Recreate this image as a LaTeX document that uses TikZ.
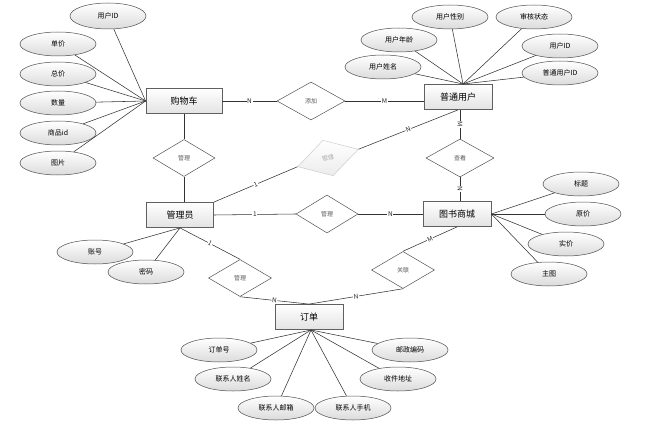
\documentclass[tikz,border=0pt]{standalone}
\usepackage{fontspec}
\setmainfont{Noto Sans CJK SC}
\usetikzlibrary{shapes.geometric,shadows}
\begin{document}
\begin{tikzpicture}[x=1pt,y=-1pt,
  ent/.style={rectangle, draw=gray!75!black, line width=0.8pt, minimum width=68pt, minimum height=25pt,
    top color=white, bottom color=gray!22, font=\fontsize{9}{9}\selectfont, inner sep=0pt,
    drop shadow={shadow xshift=0.8pt, shadow yshift=-0.8pt, opacity=0.25}},
  attr/.style={ellipse, draw=gray!60!black, line width=0.5pt, minimum width=76pt, minimum height=24pt,
    top color=white, bottom color=gray!28, font=\fontsize{7}{7}\selectfont, inner sep=0pt},
  rel/.style={diamond, draw=gray!65!black, line width=0.5pt, fill=white, minimum width=63pt, minimum height=37pt,
    inner sep=0pt, text=gray!70!black, font=\fontsize{6}{6}\selectfont},
  faded/.style={rel, draw=gray!40, top color=white, bottom color=gray!15, text=gray!65},
  conn/.style={draw=gray!40!black, line width=0.55pt},
  card/.style={midway, fill=white, inner sep=0.6pt, font=\fontsize{6.5}{6.5}\selectfont, text=black!85}
]
\useasboundingbox (0,0) rectangle (666,425);

% entities
\node[ent, minimum width=76pt] (cart) at (184,101) {购物车};
\node[ent] (user) at (458,97) {普通用户};
\node[ent, minimum width=67pt] (admin) at (180,215) {管理员};
\node[ent] (mall) at (457,214) {图书商城};
\node[ent] (order) at (309,317) {订单};

% relationships
\node[rel, minimum width=62pt] (r1) at (184,158) {管理};
\node[rel, minimum width=68pt, minimum height=38pt] (r2) at (311,101) {添加};
\node[faded, rotate=16] (r3) at (328,158) {管理};
\node[rel, minimum width=68pt, minimum height=38pt] (r4) at (460,158) {查看};
\node[rel, minimum width=62pt, minimum height=38pt] (r5) at (327,214) {管理};
\node[rel] (r6) at (240,278) {管理};
\node[rel] (r7) at (403,270) {关联};

% cart attributes
\node[attr, minimum height=26pt] (c1) at (108,16) {用户ID};
\node[attr] (c2) at (58,44) {单价};
\node[attr] (c3) at (58,74) {总价};
\node[attr] (c4) at (58,103) {数量};
\node[attr] (c5) at (58,133) {商品id};
\node[attr] (c6) at (58,163) {图片};

% user attributes
\node[attr] (u1) at (450,17) {用户性别};
\node[attr] (u2) at (534,17) {审核状态};
\node[attr] (u3) at (399,40) {用户年龄};
\node[attr] (u4) at (560,46) {用户ID};
\node[attr] (u5) at (383,67) {用户姓名};
\node[attr] (u6) at (560,73) {普通用户ID};

% admin attributes
\node[attr] (a1) at (95,252) {账号};
\node[attr] (a2) at (146,272) {密码};

% mall attributes
\node[attr] (m1) at (581,184) {标题};
\node[attr] (m2) at (583,214) {原价};
\node[attr] (m3) at (566,244) {实价};
\node[attr] (m4) at (549,274) {主图};

% order attributes
\node[attr] (o1) at (219,350) {订单号};
\node[attr] (o2) at (233,379) {联系人姓名};
\node[attr] (o3) at (276,408) {联系人邮箱};
\node[attr] (o4) at (353,408) {联系人手机};
\node[attr] (o5) at (398,379) {收件地址};
\node[attr] (o6) at (410,350) {邮政编码};

\coordinate (uhub) at (463,84);
\coordinate (ohub) at (311,330);

% attribute connectors
\foreach \a in {c1,c2,c3,c4,c5,c6} \draw[conn] (\a) -- (cart.west);
\foreach \a in {u1,u2,u3,u4,u5,u6} \draw[conn] (\a) -- (uhub);
\foreach \a in {a1,a2} \draw[conn] (\a) -- (admin.south);
\foreach \a in {m1,m2,m3,m4} \draw[conn] (\a) -- (mall.east);
\foreach \a in {o1,o2,o3,o4,o5,o6} \draw[conn] (\a) -- (ohub);

% relationship connectors
\draw[conn] (cart.south) -- (r1.north);
\draw[conn] (r1.south) -- (r1.south |- admin.north);
\draw[conn] (cart.east |- r2.west) -- node[card]{N} (r2.west);
\draw[conn] (r2.east) -- node[card]{M} (user.west |- r2.east);
\draw[conn] (admin.north east) -- node[card, sloped]{1} (r3.west);
\draw[conn] (r3.east) -- node[card, sloped]{N} (user.south);
\draw[conn] (user.south -| r4.north) -- node[card, sloped]{M} (r4.north);
\draw[conn] (r4.south) -- node[card, sloped]{N} (mall.north -| r4.south);
\draw[conn] (admin.east) -- node[card]{1} (r5.west);
\draw[conn] (r5.east) -- node[card]{N} (mall.west);
\draw[conn] (admin.south) -- node[card, sloped]{1} (r6.north);
\draw[conn] (r6.south) -- node[card, sloped]{N} (order.north);
\draw[conn] (mall.south) -- node[card, sloped]{M} (r7.north);
\draw[conn] (r7.south) -- node[card, sloped]{N} (order.north);
\end{tikzpicture}
\end{document}
